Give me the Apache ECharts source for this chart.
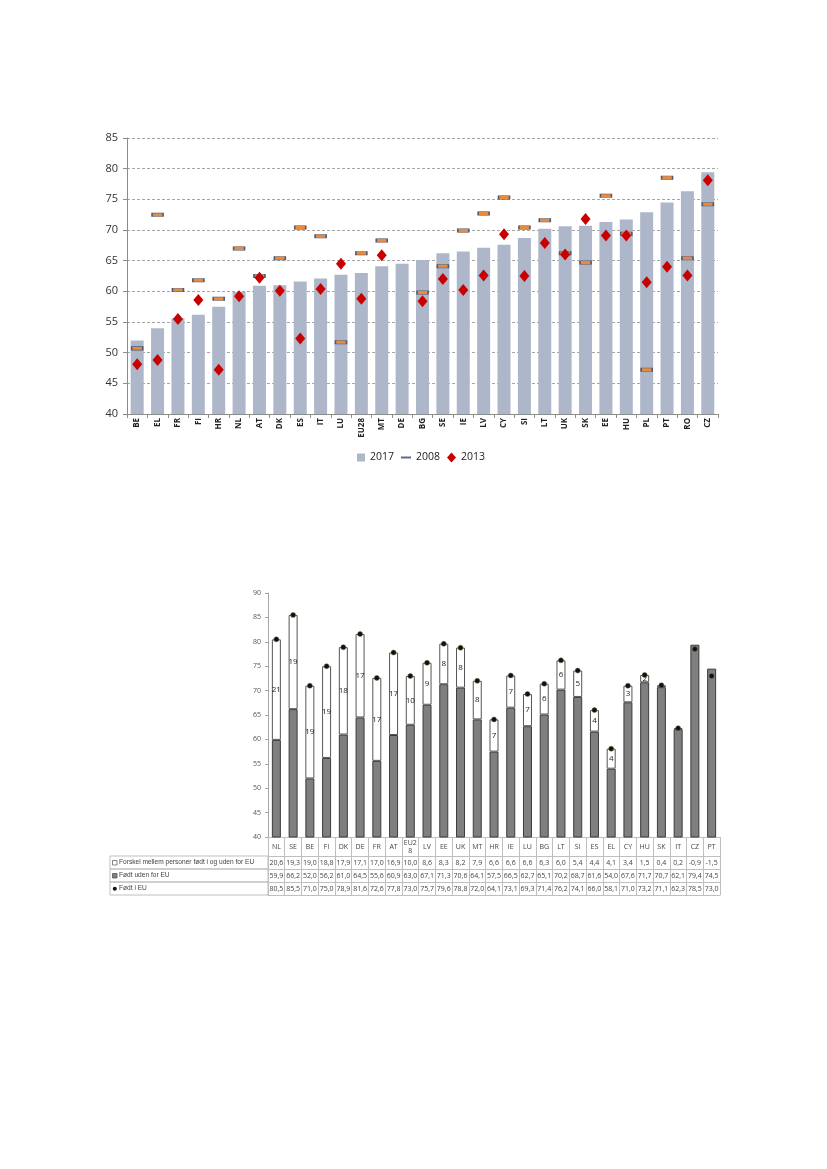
<!DOCTYPE html>
<html><head><meta charset="utf-8">
<script src="https://cdn.jsdelivr.net/npm/echarts@6/dist/echarts.min.js"></script>
<style>html,body{margin:0;padding:0;background:#fff}#c{width:827px;height:1169px}</style>
</head><body><div id="c"></div>
<script>
// ---- Top chart data ----
const topCats = ['BE','EL','FR','FI','HR','NL','AT','DK','ES','IT','LU','EU28','MT','DE','BG','SE','IE','LV','CY','SI','LT','UK','SK','EE','HU','PL','PT','RO','CZ'];
const v2017 = [52.0,54.0,55.6,56.2,57.5,59.9,60.9,61.0,61.6,62.1,62.7,63.0,64.1,64.5,65.1,66.2,66.5,67.1,67.6,68.7,70.2,70.6,70.7,71.3,71.7,72.9,74.5,76.3,79.4];
const v2008 = [50.7,72.5,60.2,61.8,58.8,67.0,62.5,65.4,70.4,69.0,51.7,66.2,68.3,null,59.8,64.1,69.9,72.7,75.3,70.4,71.6,66.2,64.7,75.6,69.4,47.2,78.5,65.4,74.2];
const v2013 = [48.1,48.8,55.5,58.6,47.2,59.2,62.2,60.1,52.3,60.4,64.5,58.8,65.9,null,58.4,62.0,60.2,62.6,69.3,62.5,67.9,66.0,71.8,69.1,69.1,61.5,64.0,62.6,78.1];
const topTicks = {min:40, max:85, interval:5};

// ---- Bottom chart data ----
const botCats = ['NL','SE','BE','FI','DK','DE','FR','AT','EU28','LV','EE','UK','MT','HR','IE','LU','BG','LT','SI','ES','EL','CY','HU','SK','IT','CZ','PT'];
const diffVals = [20.6,19.3,19.0,18.8,17.9,17.1,17.0,16.9,10.0,8.6,8.3,8.2,7.9,6.6,6.6,6.6,6.3,6.0,5.4,4.4,4.1,3.4,1.5,0.4,0.2,-0.9,-1.5];
const outsideVals = [59.9,66.2,52.0,56.2,61.0,64.5,55.6,60.9,63.0,67.1,71.3,70.6,64.1,57.5,66.5,62.7,65.1,70.2,68.7,61.6,54.0,67.6,71.7,70.7,62.1,79.4,74.5];
const insideVals = [80.5,85.5,71.0,75.0,78.9,81.6,72.6,77.8,73.0,75.7,79.6,78.8,72.0,64.1,73.1,69.3,71.4,76.2,74.1,66.0,58.1,71.0,73.2,71.1,62.3,78.5,73.0];
const botTicks = {min:40, max:90, interval:5};
const rowNames = ['Forskel mellem personer født i og uden for EU','Født uden for EU','Født i EU'];

const fmt = v => v.toFixed(1).replace('.', ',');
const F = 'Open Sans';
const chart = echarts.init(document.getElementById('c'), null, {renderer:'canvas'});

// table geometry
const gridBottomY = 837, hdrH = 19, rowH = 13;
const rowAxisBase = {
  gridIndex:1, type:'category', data:botCats, position:'bottom',
  axisLine:{show:true, lineStyle:{color:'#bfbfbf', width:1}},
  axisTick:{show:true, interval:0, length:rowH, inside:false, lineStyle:{color:'#bfbfbf'}},
  splitLine:{show:false}
};
function rowAxis(i, arr){
  return Object.assign({}, rowAxisBase, {
    offset: hdrH + i*rowH,
    axisLabel:{show: !!arr, interval:0, margin: rowH/2, verticalAlign:'middle', fontSize:7, fontFamily:F, color:'#444',
      formatter:(v, idx) => arr ? fmt(arr[idx]) : ''},
    axisTick: arr ? rowAxisBase.axisTick : {show:false}
  });
}

const graphics = [];
const iconDefs = [
  {type:'rect', fill:'#fff', stroke:'#666'},
  {type:'rect', fill:'#7f7f7f', stroke:'#555'},
  {type:'circle', fill:'#111', stroke:'#111'}
];
rowNames.forEach((nm, i) => {
  const y0 = gridBottomY + hdrH + i*rowH;
  graphics.push({type:'rect', shape:{x:110, y:y0, width:158, height:rowH}, style:{fill:'none', stroke:'#bfbfbf', lineWidth:1}});
  const d = iconDefs[i];
  if (d.type === 'rect') graphics.push({type:'rect', shape:{x:112.5, y:y0+4.5, width:4.5, height:4.5}, style:{fill:d.fill, stroke:d.stroke, lineWidth:0.8}});
  else graphics.push({type:'circle', shape:{cx:114.8, cy:y0+6.8, r:2}, style:{fill:d.fill}});
  graphics.push({type:'text', x:119, y:y0+rowH/2, style:{text:nm, fontSize:6.6, fontFamily:'Liberation Sans', fill:'#444', verticalAlign:'middle', align:'left'}});
});

const legText = {fontSize:10.5, fontFamily:F, color:'#222'};
const option = {
  animation:false,
  backgroundColor:'#fff',
  textStyle:{fontFamily:F},
  grid:[
    {left:127, right:109, top:138, bottom:1169-414, containLabel:false},
    {left:268, right:107, top:593, bottom:1169-gridBottomY, containLabel:false}
  ],
  legend:[
    {data:['2017'], left:357, top:452, padding:0, itemWidth:8, itemHeight:8, textStyle:legText, icon:'rect'},
    {data:[{name:'2008', icon:'rect', itemStyle:{color:'#5c6b8a', borderWidth:0}}], left:401, top:452, padding:0, itemWidth:10, itemHeight:2, textStyle:legText},
    {data:[{name:'2013', icon:'diamond'}], left:447, top:452, padding:0, itemWidth:9, itemHeight:10, textStyle:legText}
  ],
  xAxis:[
    {gridIndex:0, type:'category', data:topCats,
      axisLine:{lineStyle:{color:'#8c8c8c'}},
      axisTick:{show:true, interval:0, length:4, lineStyle:{color:'#8c8c8c'}},
      axisLabel:{interval:0, rotate:90, fontSize:8, fontWeight:'bold', fontFamily:F, color:'#222', margin:4}},
    {gridIndex:1, type:'category', data:botCats, position:'bottom',
      axisLine:{lineStyle:{color:'#bfbfbf'}},
      axisTick:{show:true, interval:0, length:hdrH, lineStyle:{color:'#bfbfbf'}},
      axisLabel:{interval:0, fontSize:7, fontFamily:F, color:'#444', margin:hdrH/2, verticalAlign:'middle', lineHeight:8, width:14, overflow:'breakAll'}},
    rowAxis(0, diffVals),
    rowAxis(1, outsideVals),
    rowAxis(2, insideVals),
    rowAxis(3, null)
  ],
  yAxis:[
    {gridIndex:0, type:'value', min:topTicks.min, max:topTicks.max, interval:topTicks.interval,
      axisLine:{show:true, lineStyle:{color:'#8c8c8c'}},
      axisTick:{show:true, length:4, lineStyle:{color:'#8c8c8c'}},
      axisLabel:{fontSize:11, fontFamily:F, color:'#333', margin:9},
      splitLine:{show:true, lineStyle:{color:'#a6a6a6', type:[3,2], width:1}}},
    {gridIndex:1, type:'value', min:botTicks.min, max:botTicks.max, interval:botTicks.interval,
      axisLine:{show:true, lineStyle:{color:'#a6a6a6'}},
      axisTick:{show:true, length:3, lineStyle:{color:'#a6a6a6'}},
      axisLabel:{fontSize:7, fontFamily:F, color:'#555', margin:7},
      splitLine:{show:false}}
  ],
  series:[
    {name:'2017', type:'bar', xAxisIndex:0, yAxisIndex:0, data:v2017, barWidth:13,
      itemStyle:{color:'#adb7c9'}, z:2},
    {name:'2008', type:'scatter', xAxisIndex:0, yAxisIndex:0, data:v2008, symbol:'rect', symbolSize:[11,3.5],
      itemStyle:{color:'#ec8a3c', borderColor:'#4d5a73', borderWidth:0.9, opacity:1}, z:4},
    {name:'2013', type:'scatter', xAxisIndex:0, yAxisIndex:0, data:v2013, symbol:'diamond', symbolSize:[10,12],
      itemStyle:{color:'#c80000', opacity:1}, z:5},

    {name:'Født uden for EU', type:'bar', xAxisIndex:1, yAxisIndex:1, stack:'eu', data:outsideVals, barWidth:9,
      itemStyle:{color:'#7f7f7f', borderColor:'#3c3c3c', borderWidth:1}},
    {name:'Forskel', type:'bar', xAxisIndex:1, yAxisIndex:1, stack:'eu', data:diffVals, barWidth:9,
      itemStyle:{color:'#ffffff', borderColor:'#555', borderWidth:1},
      label:{show:true, position:'inside', fontSize:8, fontFamily:F, color:'#222',
        formatter:p => p.value >= 1 ? String(Math.round(p.value)) : ''}},
    {name:'Født i EU', type:'scatter', xAxisIndex:1, yAxisIndex:1, data:insideVals, symbol:'circle', symbolSize:5,
      itemStyle:{color:'#111', borderColor:'#6b6b3a', borderWidth:0.5, opacity:1}, z:5}
  ],
  graphic: graphics
};
chart.setOption(option);
</script>
</body></html>
